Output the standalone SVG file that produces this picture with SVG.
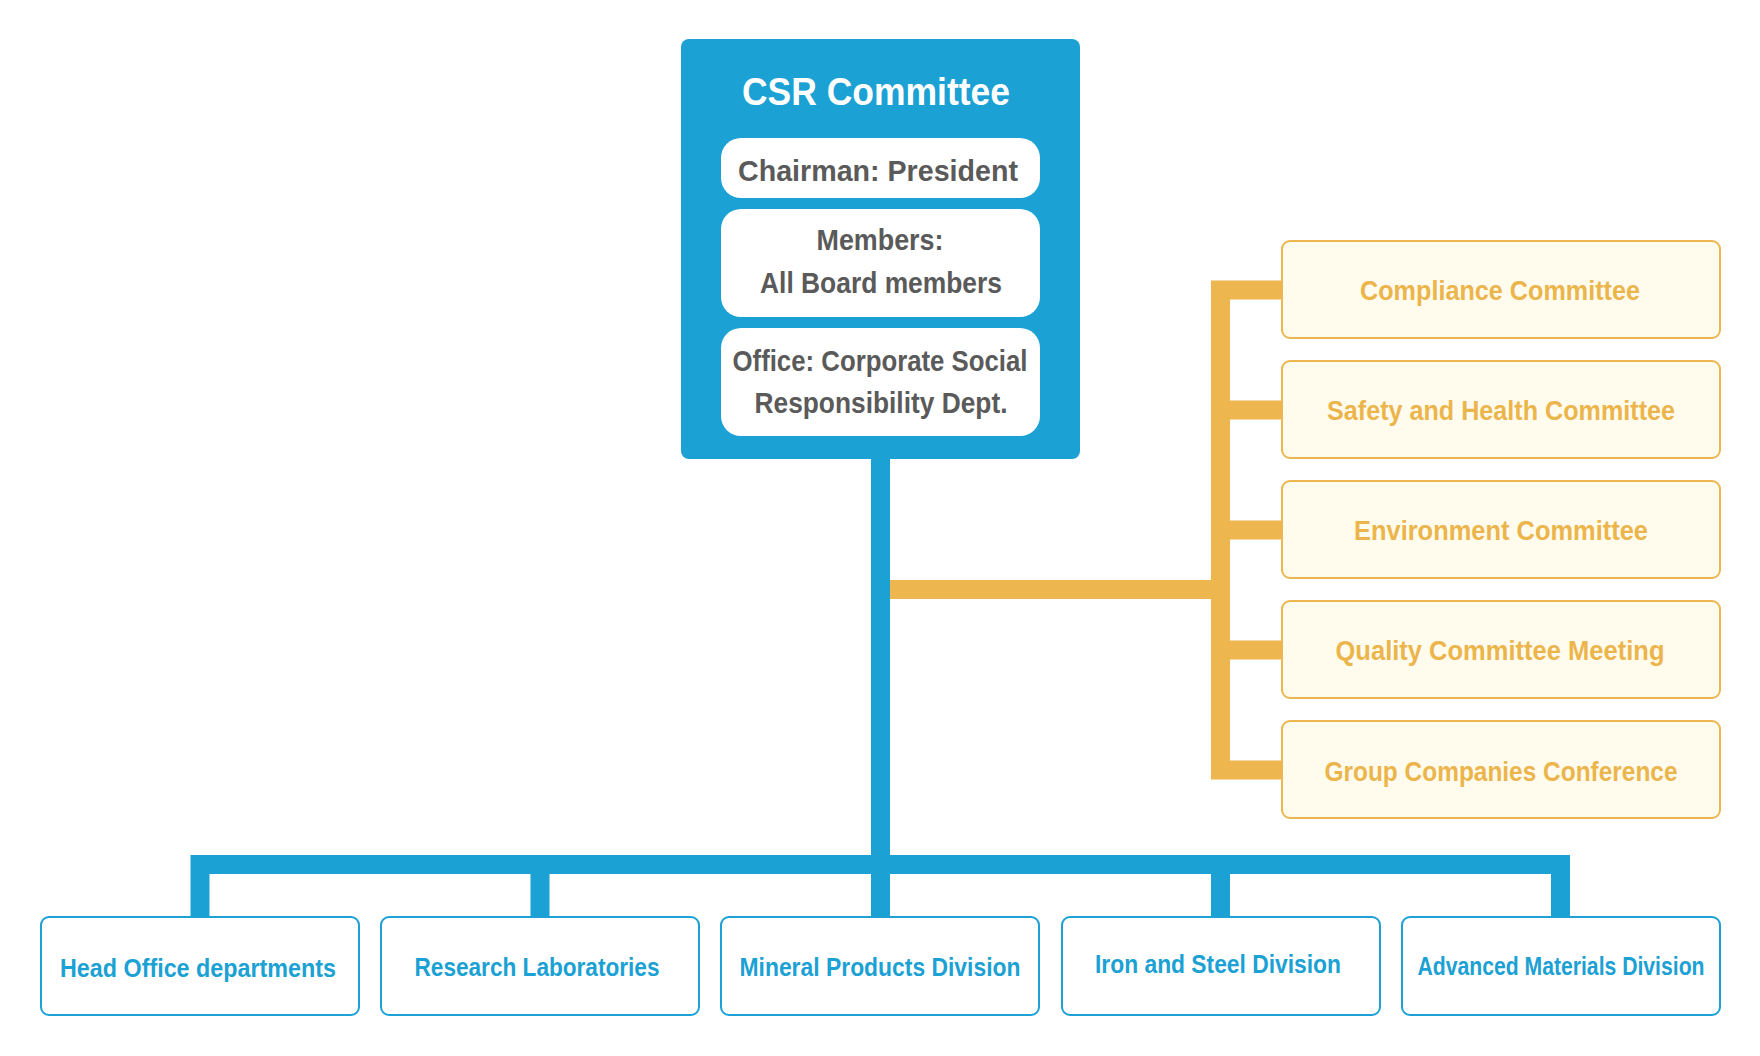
<svg xmlns="http://www.w3.org/2000/svg" width="1760" height="1056" viewBox="0 0 1760 1056">
<style>
.blue{fill:#1ba1d4}
.inner{fill:#ffffff}
.gt{font-family:"Liberation Sans",Arial,sans-serif;font-weight:bold;fill:#5a5a5a;font-size:30px;text-anchor:middle}
.title{font-family:"Liberation Sans",Arial,sans-serif;font-weight:bold;fill:#ffffff;font-size:39px;text-anchor:middle}
.obox{fill:#fffcee;stroke:#edb64e;stroke-width:2}
.ot{font-family:"Liberation Sans",Arial,sans-serif;font-weight:bold;fill:#ecb54c;font-size:28px;text-anchor:middle}
.bbox{fill:#ffffff;stroke:#1ba1d4;stroke-width:2}
.bt{font-family:"Liberation Sans",Arial,sans-serif;font-weight:bold;fill:#1ba1d4;font-size:25px;text-anchor:middle}
.cb{fill:none;stroke:#1ba1d4;stroke-width:19;stroke-linejoin:miter}
.co{fill:none;stroke:#edb64e;stroke-width:19;stroke-linejoin:miter}
</style>
<rect width="1760" height="1056" fill="#ffffff"/>
<g id="connectors">
<path class="cb" d="M880.5,459 V917"/>
<path class="cb" d="M200,917 V864.5 H1560.5 V917"/>
<path class="cb" d="M540,864.5 V917"/>
<path class="cb" d="M1220.5,864.5 V917"/>
<path class="co" d="M890,589.5 H1221"/>
<path class="co" d="M1282,290 H1220.5 V770 H1282"/>
<path class="co" d="M1220,410 H1282"/>
<path class="co" d="M1220,530 H1282"/>
<path class="co" d="M1220,650 H1282"/>
</g>
<g id="csr-committee">
<rect class="blue" x="681" y="39" width="399" height="420" rx="8"/>
<text class="title" x="876" y="105" textLength="268" lengthAdjust="spacingAndGlyphs">CSR Committee</text>
<rect class="inner" x="721" y="138" width="319" height="60" rx="20"/>
<text class="gt" x="878" y="181" textLength="280" lengthAdjust="spacingAndGlyphs">Chairman: President</text>
<rect class="inner" x="721" y="209" width="319" height="108" rx="20"/>
<text class="gt" x="880" y="250" textLength="127" lengthAdjust="spacingAndGlyphs">Members:</text>
<text class="gt" x="881" y="293" textLength="242" lengthAdjust="spacingAndGlyphs">All Board members</text>
<rect class="inner" x="721" y="328" width="319" height="108" rx="20"/>
<text class="gt" x="880" y="371" textLength="295" lengthAdjust="spacingAndGlyphs">Office: Corporate Social</text>
<text class="gt" x="881" y="413" textLength="253" lengthAdjust="spacingAndGlyphs">Responsibility Dept.</text>
</g>
<g id="compliance-committee">
<rect class="obox" x="1282" y="241" width="438" height="97" rx="8"/>
<text class="ot" x="1500" y="300" textLength="280" lengthAdjust="spacingAndGlyphs">Compliance Committee</text>
</g>
<g id="safety-health-committee">
<rect class="obox" x="1282" y="361" width="438" height="97" rx="8"/>
<text class="ot" x="1501" y="420" textLength="348" lengthAdjust="spacingAndGlyphs">Safety and Health Committee</text>
</g>
<g id="environment-committee">
<rect class="obox" x="1282" y="481" width="438" height="97" rx="8"/>
<text class="ot" x="1501" y="540" textLength="294" lengthAdjust="spacingAndGlyphs">Environment Committee</text>
</g>
<g id="quality-committee-meeting">
<rect class="obox" x="1282" y="601" width="438" height="97" rx="8"/>
<text class="ot" x="1500" y="660" textLength="329" lengthAdjust="spacingAndGlyphs">Quality Committee Meeting</text>
</g>
<g id="group-companies-conference">
<rect class="obox" x="1282" y="721" width="438" height="97" rx="8"/>
<text class="ot" x="1501" y="781" textLength="353" lengthAdjust="spacingAndGlyphs">Group Companies Conference</text>
</g>
<g id="head-office-departments">
<rect class="bbox" x="41" y="917" width="318" height="98" rx="8"/>
<text class="bt" x="198" y="977" textLength="276" lengthAdjust="spacingAndGlyphs">Head Office departments</text>
</g>
<g id="research-laboratories">
<rect class="bbox" x="381" y="917" width="318" height="98" rx="8"/>
<text class="bt" x="537" y="976" textLength="245" lengthAdjust="spacingAndGlyphs">Research Laboratories</text>
</g>
<g id="mineral-products-division">
<rect class="bbox" x="721" y="917" width="318" height="98" rx="8"/>
<text class="bt" x="880" y="976" textLength="281" lengthAdjust="spacingAndGlyphs">Mineral Products Division</text>
</g>
<g id="iron-steel-division">
<rect class="bbox" x="1062" y="917" width="318" height="98" rx="8"/>
<text class="bt" x="1218" y="973" textLength="246" lengthAdjust="spacingAndGlyphs">Iron and Steel Division</text>
</g>
<g id="advanced-materials-division">
<rect class="bbox" x="1402" y="917" width="318" height="98" rx="8"/>
<text class="bt" x="1561" y="975" textLength="287" lengthAdjust="spacingAndGlyphs">Advanced Materials Division</text>
</g>
</svg>
